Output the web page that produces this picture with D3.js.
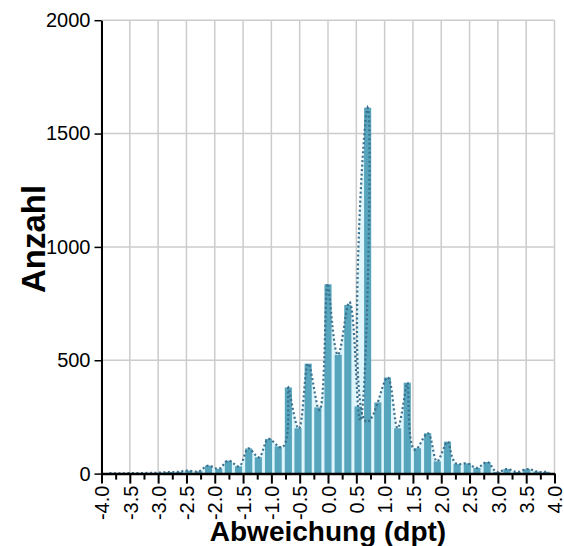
<!DOCTYPE html>
<html><head><meta charset="utf-8">
<script src="https://cdn.jsdelivr.net/npm/d3@7"></script>
<style>body{margin:0;background:#fff}svg{display:block}text{font-family:"Liberation Sans",Arial,sans-serif}</style>
</head><body>
<svg id="chart" width="564" height="546"></svg>
<script>
// bin centres (dpt)
const binCenters = [-3.86,-3.69,-3.51,-3.34,-3.16,-2.98,-2.81,-2.63,-2.46,-2.28,-2.11,-1.93,-1.76,-1.58,-1.40,-1.23,-1.05,-0.88,-0.70,-0.53,-0.35,-0.18,
  0,0.18,0.35,0.53,0.70,0.88,1.05,1.23,1.40,1.58,1.76,1.93,2.11,2.28,2.46,2.63,2.81,2.98,3.16,3.34,3.51,3.69,3.86];
// counts per bin
const counts = [2,1,2,2,3,4,7,8,13,10,35,21,57,32,111,72,153,120,380,200,485,292,
  835,524,744,296,1614,314,424,200,401,112,178,54,141,42,45,25,51,7,20,7,20,9,8];
const xTickValues = [-4,-3.5,-3,-2.5,-2,-1.5,-1,-0.5,0,0.5,1,1.5,2,2.5,3,3.5,4];
const xTickLabels = ["-4.0","-3.5","-3.0","-2.5","-2.0","-1.5","-1.0","-0.5","0.0","0.5","1.0","1.5","2.0","2.5","3.0","3.5","4.0"];
const xMinorTicks = [-3.75,-3.25,-2.75,-2.25,-1.75,-1.25,-0.75,-0.25,0.25,0.75,1.25,1.75,2.25,2.75,3.25,3.75];
const yTickValues = [0,500,1000,1500,2000];
const yTickLabels = ["0","500","1000","1500","2000"];
const xTitle = "Abweichung (dpt)";
const yTitle = "Anzahl";

const W = 564, H = 546;
const m = {l:101.5, r:9.5, t:20.2, b:72.4};
const x = d3.scaleLinear().domain([-4,4]).range([m.l, W-m.r]);
const y = d3.scaleLinear().domain([0,2000]).range([H-m.b, m.t]);
const svg = d3.select('#chart');

// parametric natural cubic spline (chord-length knots) as a d3 curve factory
function natural2nd(s, v) {
  const n = v.length, M = new Array(n).fill(0);
  if (n < 3) return M;
  const a = [], b = [], c = [], r = [];
  for (let i = 1; i < n - 1; i++) {
    const h0 = s[i] - s[i-1], h1 = s[i+1] - s[i];
    a.push(h0); b.push(2 * (h0 + h1)); c.push(h1);
    r.push(6 * ((v[i+1] - v[i]) / h1 - (v[i] - v[i-1]) / h0));
  }
  const k = r.length;
  for (let i = 1; i < k; i++) {
    const w = a[i] / b[i-1];
    b[i] -= w * c[i-1]; r[i] -= w * r[i-1];
  }
  const sol = new Array(k);
  sol[k-1] = r[k-1] / b[k-1];
  for (let i = k - 2; i >= 0; i--) sol[i] = (r[i] - c[i] * sol[i+1]) / b[i];
  for (let i = 0; i < k; i++) M[i+1] = sol[i];
  return M;
}
function ChordNatural(context) { this._context = context; }
ChordNatural.prototype = {
  areaStart() { this._line = 0; },
  areaEnd() { this._line = NaN; },
  lineStart() { this._x = []; this._y = []; },
  point(px, py) { this._x.push(+px); this._y.push(+py); },
  lineEnd() {
    const X = this._x, Y = this._y, n = X.length, ctx = this._context;
    if (n) {
      if (this._line) ctx.lineTo(X[0], Y[0]); else ctx.moveTo(X[0], Y[0]);
      const s = [0];
      for (let i = 1; i < n; i++) s.push(s[i-1] + Math.max(1e-6, Math.hypot(X[i]-X[i-1], Y[i]-Y[i-1])));
      const flat = Y.every(v => v === Y[0]);
      if (n > 2 && !flat) {
        const Mx = natural2nd(s, X), My = natural2nd(s, Y);
        const ev = (M, v, i, u) => {
          const h = s[i+1] - s[i], A = s[i+1] - u, B = u - s[i];
          return (A*A*A*M[i] + B*B*B*M[i+1]) / (6*h) + (v[i]/h - M[i]*h/6) * A + (v[i+1]/h - M[i+1]*h/6) * B;
        };
        for (let i = 0; i < n - 1; i++) {
          const steps = 24;
          for (let j = 1; j <= steps; j++) {
            const u = s[i] + (s[i+1] - s[i]) * j / steps;
            ctx.lineTo(ev(Mx, X, i, u), ev(My, Y, i, u));
          }
        }
      } else {
        for (let i = 1; i < n; i++) ctx.lineTo(X[i], Y[i]);
      }
    }
    if (this._line || (this._line !== 0 && n === 1)) ctx.closePath();
    this._line = 1 - this._line;
  }
};
const curve = ctx => new ChordNatural(ctx);

// clip to plot area
svg.append('defs').append('clipPath').attr('id', 'plot')
  .append('rect').attr('x', x(-4)).attr('y', y(2000)).attr('width', x(4) - x(-4)).attr('height', y(0) - y(2000));

// grid
svg.append('g').selectAll('line').data(xTickValues).join('line')
  .attr('x1', d=>x(d)).attr('x2', d=>x(d)).attr('y1', y(2000)).attr('y2', y(0))
  .attr('stroke', '#cccccc').attr('stroke-width', 1.5);
svg.append('g').selectAll('line').data(yTickValues.slice(1)).join('line')
  .attr('x1', x(-4)).attr('x2', x(4)).attr('y1', d=>y(d)).attr('y2', d=>y(d))
  .attr('stroke', '#cccccc').attr('stroke-width', 1.5);

const pts = binCenters.map((c,i)=>[c, counts[i]]);

// light area under the smoothed curve
svg.append('path').datum(pts).attr('clip-path', 'url(#plot)')
  .attr('d', d3.area().x(d=>x(d[0])).y0(y(0)).y1(d=>y(d[1])).curve(curve))
  .attr('fill', '#def6fb');

// bars
const step = x(binCenters[1]) - x(binCenters[0]);
const bw = step * 0.74;
svg.append('g').selectAll('rect').data(pts).join('rect')
  .attr('x', d=>x(d[0]) - bw/2).attr('width', bw)
  .attr('y', d=>y(d[1])).attr('height', d=>y(0)-y(d[1]))
  .attr('fill', '#57a5bd');

// dotted curve
svg.append('path').datum(pts).attr('clip-path', 'url(#plot)')
  .attr('d', d3.line().x(d=>x(d[0])).y(d=>y(d[1])).curve(curve))
  .attr('fill', 'none').attr('stroke', '#3b6f8c').attr('stroke-width', 2.2)
  .attr('stroke-dasharray', '2,2.5');

// y axis
const gy = svg.append('g').attr('transform', `translate(${m.l},0)`)
  .call(d3.axisLeft(y).tickValues(yTickValues).tickSize(7).tickSizeOuter(0).tickPadding(4)
    .tickFormat((d,i)=>yTickLabels[i]));
gy.select('.domain').attr('stroke', '#000').attr('stroke-width', 2);
gy.selectAll('.tick line').attr('stroke', '#000').attr('stroke-width', 1.5);
gy.selectAll('.tick text').attr('font-size', 20).attr('fill', '#000');

// x axis minor ticks
const gxm = svg.append('g').attr('transform', `translate(0,${y(0)})`)
  .call(d3.axisBottom(x).tickValues(xMinorTicks).tickSize(6).tickSizeOuter(0).tickFormat(''));
gxm.select('.domain').remove();
gxm.selectAll('.tick line').attr('stroke', '#000').attr('stroke-width', 2);

// x axis major
const gx = svg.append('g').attr('transform', `translate(0,${y(0)})`)
  .call(d3.axisBottom(x).tickValues(xTickValues).tickSize(10).tickSizeOuter(0)
    .tickFormat((d,i)=>xTickLabels[i]));
gx.select('.domain').attr('stroke', '#000').attr('stroke-width', 2.5);
gx.selectAll('.tick line').attr('stroke', '#000').attr('stroke-width', 2);
gx.selectAll('.tick text')
  .attr('font-size', 20).attr('fill', '#000')
  .attr('transform', 'rotate(-90)')
  .attr('text-anchor', 'end')
  .attr('x', -12).attr('y', 0).attr('dy', '0.36em');

// titles
svg.append('text').attr('x', (x(-4)+x(4))/2).attr('y', 541)
  .attr('text-anchor', 'middle').attr('font-size', 28).attr('font-weight', 'bold')
  .text(xTitle);
svg.append('text').attr('transform', `translate(45,239) rotate(-90)`)
  .attr('text-anchor', 'middle').attr('font-size', 33).attr('font-weight', 'bold')
  .text(yTitle);
</script>
</body></html>
